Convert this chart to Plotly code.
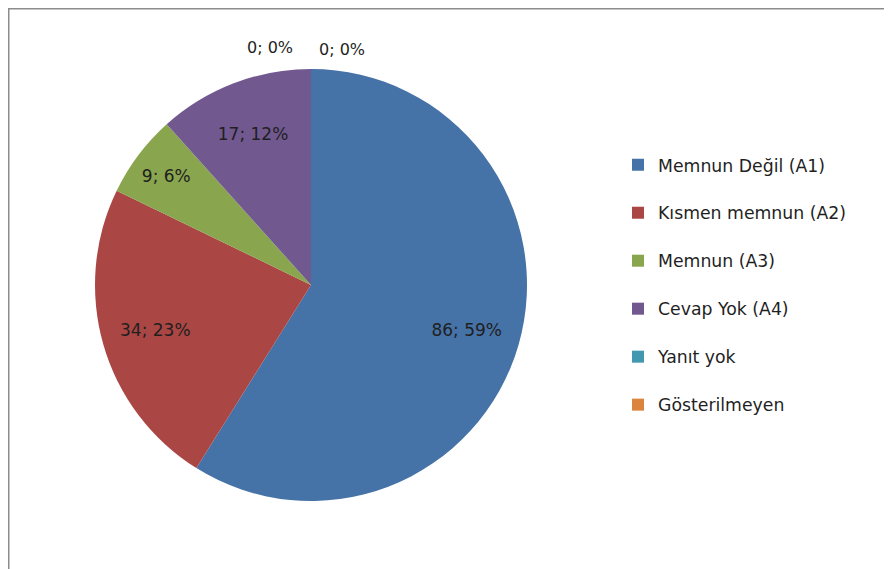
import plotly.graph_objects as go

categories = ["Memnun Değil (A1)", "Kısmen memnun (A2)", "Memnun (A3)",
              "Cevap Yok (A4)", "Yanıt yok", "Gösterilmeyen"]
values = [86, 34, 9, 17, 0, 0]
colors = ["#4572A7", "#AA4643", "#89A54E", "#71588F", "#4198AF", "#DB843D"]

# page is offset by the 8px body margin, so the figure is 884x561
W, H = 884, 561
cx, cy, R = 303, 277, 216
FONT = "DejaVu Sans"
TXT = "#1f1f1f"

dom = dict(x=[(cx - R) / W, (cx + R) / W], y=[1 - (cy + R) / H, 1 - (cy - R) / H])
total = sum(values)
text_pos = ["inside" if v > 0 else "none" for v in values]

# coloured slices + legend
pie = go.Pie(
    labels=[c + "<br> " for c in categories],
    values=values,
    sort=False,
    direction="clockwise",
    rotation=0,
    marker=dict(colors=colors, line=dict(width=0)),
    textinfo="none",
    domain=dom,
    showlegend=True,
    hoverinfo="label+value+percent",
)
# transparent ring, used only to place the value labels at ~3/4 radius
ring = go.Pie(
    labels=[c + "<br> " for c in categories],
    values=values,
    sort=False,
    direction="clockwise",
    rotation=0,
    hole=0.5,
    marker=dict(colors=["rgba(0,0,0,0)"] * len(values), line=dict(width=0)),
    texttemplate="%{value}; %{percent:.0%}",
    textposition=text_pos,
    insidetextorientation="horizontal",
    textfont=dict(family=FONT, size=17, color=TXT),
    domain=dom,
    showlegend=False,
    hoverinfo="skip",
)

fig = go.Figure([pie, ring])

zero_idx = [i for i, v in enumerate(values) if v == 0]
zero_xy = [(262, 40), (334, 42)]
annotations = []
for i, (ax, ay) in zip(zero_idx, zero_xy):
    annotations.append(dict(
        x=ax / W, y=1 - ay / H, xref="paper", yref="paper", showarrow=False,
        xanchor="center", yanchor="middle",
        text=f"{values[i]}; {round(100 * values[i] / total)}%",
        font=dict(family=FONT, size=16, color=TXT),
    ))

fig.update_layout(
    width=W, height=H,
    margin=dict(l=0, r=0, t=0, b=0),
    paper_bgcolor="white",
    legend=dict(x=610 / W, y=1 - 139 / H, xanchor="left", yanchor="top",
                font=dict(family=FONT, size=17.3, color=TXT),
                valign="top", bgcolor="rgba(0,0,0,0)"),
    annotations=annotations,
    shapes=[
        dict(type="line", xref="paper", yref="paper", x0=0, x1=1, y0=1 - 0.75 / H, y1=1 - 0.75 / H,
             line=dict(color="#8c8c8c", width=1.5)),
        dict(type="line", xref="paper", yref="paper", x0=0.75 / W, x1=0.75 / W, y0=0, y1=1,
             line=dict(color="#8c8c8c", width=1.5)),
    ],
)

fig.write_html("out.html")
